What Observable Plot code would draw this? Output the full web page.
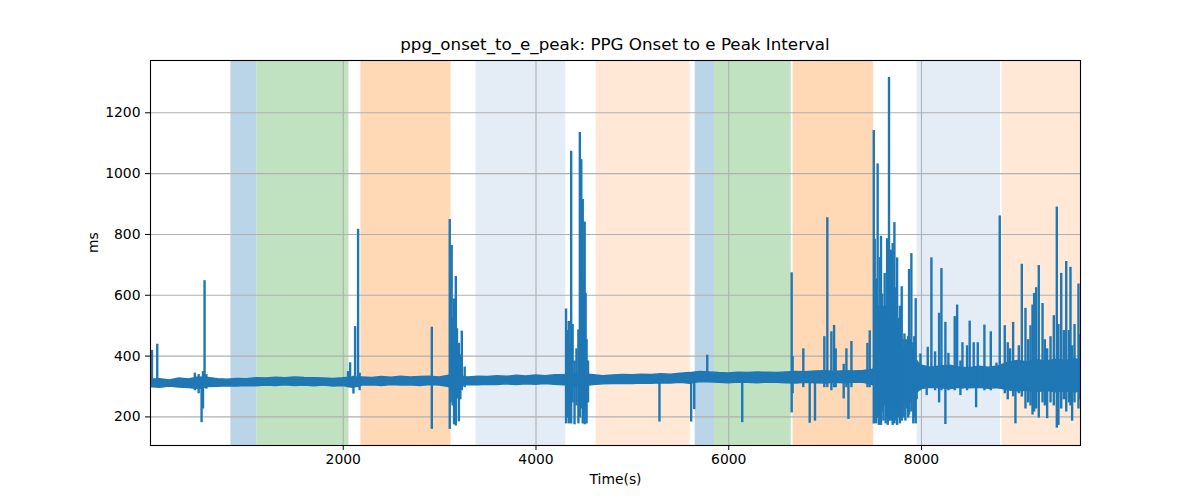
<!DOCTYPE html>
<html><head><meta charset="utf-8">
<script src="https://cdn.jsdelivr.net/npm/d3@7"></script>
<script src="https://cdn.jsdelivr.net/npm/@observablehq/plot@0.6"></script>
<style>
body{margin:0;background:#fff;font-family:"DejaVu Sans",sans-serif;}
#wrap{position:relative;width:1200px;height:500px;}
#title{position:absolute;left:0;width:1230px;top:34px;line-height:20px;text-align:center;font-size:16.7px;color:#000;}
</style></head><body>
<div id="wrap"><div id="chart"></div><div id="title">ppg_onset_to_e_peak: PPG Onset to e Peak Interval</div></div>
<script>
const xTicks = [2000, 4000, 6000, 8000];
const yTicks = [200, 400, 600, 800, 1000, 1200];

const spanStart = [834, 1107, 2183, 3378, 4624, 5652, 5853, 6667, 7954, 8837];
const spanEnd   = [1107, 2059, 3118, 4309, 5600, 5853, 6649, 7504, 8819, 9650];
const spanKind  = ["blue", "green", "orange", "lightblue", "lightorange", "blue", "green", "orange", "lightblue", "lightorange"];
const kindNames = ["blue", "green", "orange", "lightblue", "lightorange"];
const kindFills = ["#bad4e8", "#c0e2c0", "#ffd8b6", "#e4ecf6", "#ffe9d6"];

const bandT = [0,100,200,300,400,500,600,700,800,900,1000,1100,1200,1300,1400,1500,1600,1700,1800,1900,2000,2100,2200,2300,2400,2500,2600,2700,2800,2900,3000,3100,3200,3300,3400,3500,3600,3700,3800,3900,4000,4100,4200,4300,4400,4500,4600,4700,4800,4900,5000,5100,5200,5300,5400,5500,5600,5700,5800,5900,6000,6100,6200,6300,6400,6500,6600,6700,6800,6900,7000,7100,7200,7300,7400,7500,7600,7700,7800,7900,8000,8100,8200,8300,8400,8500,8600,8700,8800,8900,9000,9100,9200,9300,9400,9500,9600,9650];
const bandLo = [298,296,300,297,295,292,298,299,301,300,302,301,303,302,304,302,303,301,303,300,302,296,303,304,302,305,303,304,302,305,303,298,300,305,304,306,305,307,305,307,306,308,306,304,300,302,305,307,308,309,308,310,309,311,310,312,309,315,314,312,311,313,312,311,313,312,311,310,312,311,310,312,311,313,312,305,260,255,260,265,292,296,294,292,296,294,296,293,295,288,284,286,282,285,281,284,280,286];
const bandHi = [322,324,320,326,323,330,328,324,322,325,324,327,326,329,327,330,328,327,326,325,327,330,330,328,331,329,332,330,331,332,330,335,333,330,332,331,334,332,335,333,336,334,337,338,340,340,337,334,336,338,337,339,338,340,339,342,344,348,346,344,343,345,344,346,345,344,346,348,347,349,350,348,350,349,351,355,420,430,410,400,368,362,366,368,362,360,365,362,366,378,384,380,386,382,388,384,390,384];

const spikeT  = [15,70,460,500,530,545,561,580,2050,2071,2106,2123,2154,2170,2919,
  3105,3115,3125,3135,3150,3160,3168,3180,3190,3200,3215,3230,3260,
  4312,4325,4340,4355,4365,4380,4400,4420,4440,4455,4470,4485,4495,4505,4515,4525,4540,
  5281,5610,5642,5777,6140,6653,6663,6774,6840,6895,6992,7023,7065,7093,7110,7193,7221,7242,7273,7439,7463,
  7505,7515,7530,7545,7558,7570,7580,7592,7605,7618,7628,7643,7650,7663,7672,7684,7692,7701,7710,7719,7728,7738,7747,7757,7766,7776,7785,7795,7805,7814,7823,7833,7842,7852,7862,7871,7881,7895,7905,7915,7925,7940,7950,
  7989,8054,8065,8103,8141,8183,8207,8248,8279,8345,8370,8404,8425,8473,8500,8542,8567,8584,8653,8719,8778,8812,
  8864,8895,8920,8951,8975,9010,9041,9079,9107,9131,9152,9169,9190,9217,9256,9280,9304,9339,9373,9404,9421,9450,9477,9502,9530,9546,9563,9588,9629,9643];
const spikeLo = [300,300,290,280,185,230,300,295,300,305,279,300,300,290,163,
  163,250,290,240,178,220,174,263,280,188,260,290,300,
  181,200,181,230,181,250,178,240,181,200,230,181,200,178,220,181,250,
  187,187,228,320,185,217,280,300,183,190,300,300,290,300,300,263,300,196,300,300,300,
  181,190,181,200,176,210,176,220,190,240,181,200,176,190,210,190,230,176,200,181,220,190,176,230,200,181,240,190,260,200,240,190,250,230,200,210,250,220,260,181,200,181,260,
  290,274,300,300,290,250,290,179,290,290,300,274,295,290,300,300,234,300,290,290,300,295,
  280,260,290,270,181,280,269,230,250,240,210,220,230,200,250,240,198,250,240,167,176,230,260,220,250,240,190,250,230,260];
const spikeHi = [415,435,340,335,320,345,644,335,345,374,330,493,813,340,491,
  845,600,760,520,584,450,658,486,420,438,400,478,360,
  551,480,510,420,1070,500,380,420,482,1131,1042,911,650,837,602,450,380,
  320,330,335,399,330,670,394,420,330,330,460,851,476,497,420,369,420,330,444,438,479,
  1138,780,650,1028,560,720,790,600,560,668,560,782,600,1312,744,744,520,766,600,835,560,620,719,520,480,560,500,624,450,420,469,430,450,420,460,681,450,733,420,440,460,585,380,
  403,360,425,719,410,537,684,507,405,526,564,380,440,430,511,440,360,440,498,476,373,857,
  496,440,420,507,380,430,698,553,450,496,564,602,621,694,569,450,420,460,529,886,500,668,480,707,480,688,430,500,633,466];

const spans = spanStart.map((s, i) => ({start: s, end: spanEnd[i], kind: spanKind[i]}));
const band = bandT.map((t, i) => ({t, lo: bandLo[i], hi: bandHi[i]}));
const spikes = spikeT.map((t, i) => ({t, lo: spikeLo[i], hi: spikeHi[i]}));

const chart = Plot.plot({
  width: 1200, height: 500,
  marginLeft: 150, marginRight: 120, marginTop: 60, marginBottom: 55,
  style: {fontFamily: "DejaVu Sans", fontSize: "13.9px", color: "#000", background: "#fff", overflow: "visible"},
  x: {domain: [0, 9650], label: null},
  y: {domain: [106, 1372], label: null},
  color: {domain: kindNames, range: kindFills},
  marks: [
    Plot.rect(spans, {x1: "start", x2: "end", fill: "kind"}),
    Plot.gridX(xTicks, {stroke: "#b0b0b0", strokeOpacity: 1, strokeWidth: 1.1}),
    Plot.gridY(yTicks, {stroke: "#b0b0b0", strokeOpacity: 1, strokeWidth: 1.1}),
    Plot.areaY(band, {x: "t", y1: "lo", y2: "hi", fill: "#1f77b4", stroke: "#1f77b4", strokeWidth: 1.5, clip: true}),
    Plot.ruleX(spikes, {x: "t", y1: "lo", y2: "hi", stroke: "#1f77b4", strokeWidth: 2.4, strokeLinecap: "square", clip: true}),
    Plot.frame({stroke: "#000", strokeWidth: 1.1}),
    Plot.axisX(xTicks, {tickSize: 5, tickPadding: 4, tickFormat: d => String(d), label: null, stroke: "#000"}),
    Plot.axisY(yTicks, {tickSize: 5, tickPadding: 5, tickFormat: d => String(d), label: null, stroke: "#000"}),
    Plot.text(["Time(s)"], {frameAnchor: "bottom", dy: 38, fontSize: 13.9, fill: "#000"}),
    Plot.text(["ms"], {frameAnchor: "left", dx: -57, rotate: -90, fontSize: 13.9, fill: "#000"})
  ]
});
document.getElementById("chart").appendChild(chart);
</script>
</body></html>
